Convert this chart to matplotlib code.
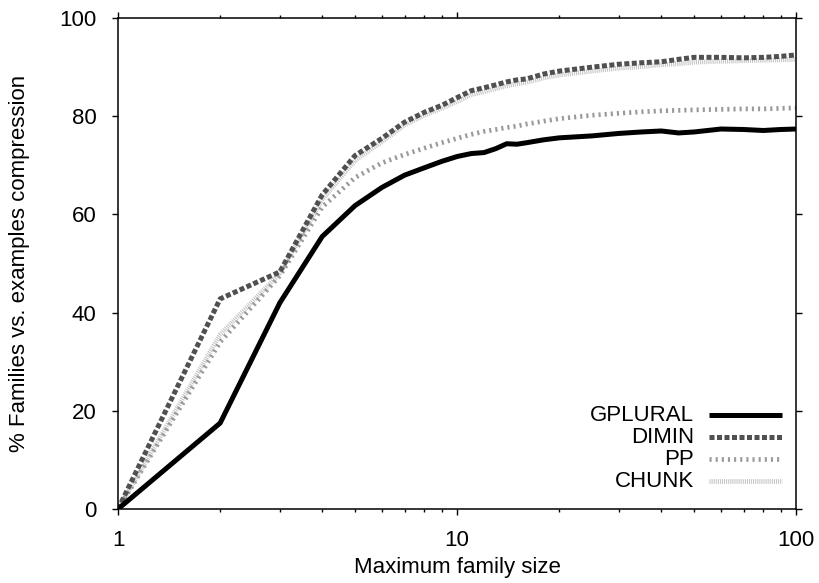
import matplotlib
matplotlib.use("Agg")
import matplotlib.pyplot as plt
from matplotlib.ticker import LogLocator, NullFormatter, FixedLocator, FixedFormatter

plt.rcParams["font.family"] = ["Liberation Sans", "DejaVu Sans"]

# data
sizes = [1, 2, 3, 4, 5, 6, 7, 8, 9, 10, 11, 12, 13, 14, 15, 16, 18, 20,
         25, 30, 35, 40, 45, 50, 60, 70, 80, 90, 100]

gplural = [0, 17.5, 42, 55.5, 61.8, 65.5, 68, 69.5, 70.8, 71.8, 72.4, 72.6, 73.4, 74.4,
           74.3, 74.6, 75.2, 75.6, 76.0, 76.5, 76.8, 77.0, 76.6, 76.8, 77.4, 77.3, 77.1,
           77.3, 77.4]
dimin = [0, 42.8, 48.3, 64, 72, 75.5, 78.8, 80.8, 82.2, 83.8, 85.2, 85.8, 86.4, 87.0,
         87.4, 87.6, 88.6, 89.2, 90.0, 90.6, 90.9, 91.1, 91.6, 92.0, 92.0, 91.9, 92.0,
         92.2, 92.5]
pp = [0, 34, 47.5, 61.5, 67.5, 70.5, 72.2, 73.5, 74.6, 75.5, 76.3, 76.9, 77.3, 77.7,
      78.0, 78.4, 79.0, 79.5, 80.2, 80.6, 80.9, 81.1, 81.2, 81.3, 81.4, 81.5, 81.5,
      81.6, 81.7]
chunk = [0, 35.5, 48, 63, 71, 74.8, 78.2, 80.2, 81.6, 83, 84.4, 85, 85.6, 86.2, 86.6,
         86.9, 87.8, 88.4, 89.2, 89.8, 90.1, 90.5, 90.7, 91.0, 91.2, 91.3, 91.4, 91.5, 91.6]

series = [
    ("GPLURAL", gplural, dict(color="black", lw=3.6, ls="-")),
    ("DIMIN", dimin, dict(color="#505050", lw=3.6, dashes=(1.0, 0.5))),
    ("PP", pp, dict(color="#9a9a9a", lw=3.4, dashes=(0.45, 0.85))),
    ("CHUNK", chunk, dict(color="#c4c4c4", lw=3.4, dashes=(0.22, 0.22))),
]
FS = 16

fig = plt.figure(figsize=(8.2, 5.83), dpi=100)
ax = fig.add_axes([0.144, 0.127, 0.827, 0.842])

# draw back to front so GPLURAL sits on top
for name, vals, style in reversed(series):
    ax.plot(sizes, vals, solid_capstyle="butt", dash_capstyle="butt", **style)

ax.set_xscale("log")
ax.set_xlim(1, 100)
ax.set_ylim(0, 100)

ax.xaxis.set_major_locator(FixedLocator([1, 10, 100]))
ax.xaxis.set_major_formatter(FixedFormatter(["1", "10", "100"]))
ax.xaxis.set_minor_locator(LogLocator(base=10, subs=range(2, 10)))
ax.xaxis.set_minor_formatter(NullFormatter())
ax.set_yticks([0, 20, 40, 60, 80, 100])

ax.tick_params(which="both", direction="out", top=True, right=True, width=1.0, color="black")
ax.tick_params(which="major", length=4.5, labelsize=FS)
ax.tick_params(which="minor", length=2.5)
ax.tick_params(axis="x", which="major", pad=11)
ax.tick_params(axis="y", which="major", pad=11)
for sp in ax.spines.values():
    sp.set_linewidth(1.1)

ax.set_xlabel("Maximum family size", fontsize=FS, labelpad=4)
ax.set_ylabel("% Families vs. examples compression", fontsize=FS, labelpad=21)

# gnuplot-style key: right-aligned names, sample line on the right
key_x_text = 0.849
key_x0, key_x1 = 0.872, 0.979
key_y0, key_dy = 0.191, 0.0448
for i, (name, vals, style) in enumerate(series):
    y = key_y0 - i * key_dy
    ax.text(key_x_text, y, name, transform=ax.transAxes, ha="right", va="center", fontsize=FS)
    ax.plot([key_x0, key_x1], [y, y], transform=ax.transAxes, clip_on=False,
            solid_capstyle="butt", dash_capstyle="butt", **style)

fig.savefig("out.png", dpi=100)
